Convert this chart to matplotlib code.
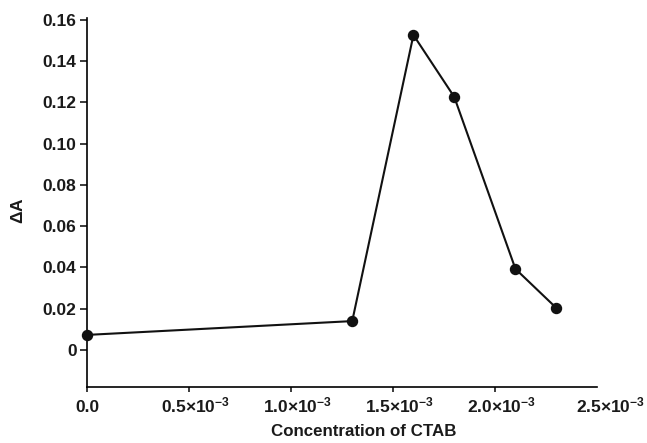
import matplotlib
matplotlib.use("Agg")
import matplotlib.pyplot as plt
import matplotlib.transforms as mtransforms
import numpy as np

#1, data
conc = [0.0, 1.3e-3, 1.6e-3, 1.8e-3, 2.1e-3, 2.3e-3]
dA = [0.0073, 0.0140, 0.1527, 0.1227, 0.0393, 0.0204]

xticks = [0.0, 0.5e-3, 1.0e-3, 1.5e-3, 2.0e-3, 2.5e-3]
xlabels = ['0.0', r'$\mathbf{0.5{\times}10^{-3}}$', r'$\mathbf{1.0{\times}10^{-3}}$',
           r'$\mathbf{1.5{\times}10^{-3}}$', r'$\mathbf{2.0{\times}10^{-3}}$',
           r'$\mathbf{2.5{\times}10^{-3}}$']
yticks = [0, 0.02, 0.04, 0.06, 0.08, 0.10, 0.12, 0.14, 0.16]
ylabels = ['0', '0.02', '0.04', '0.06', '0.08', '0.10', '0.12', '0.14', '0.16']

#2, fonts
plt.rcParams['font.family'] = ['Liberation Sans', 'DejaVu Sans']
plt.rcParams['font.weight'] = 'bold'
plt.rcParams['mathtext.fontset'] = 'custom'
plt.rcParams['mathtext.rm'] = 'Liberation Sans:bold'
plt.rcParams['mathtext.bf'] = 'Liberation Sans:bold'

#3, plot
fig = plt.figure(figsize=(6.47, 4.43), dpi=100)
ax = fig.add_axes([0.1345, 0.1262, 0.7883, 0.8334])

ax.plot(conc, dA, '-o', color='#111111', lw=1.5, ms=7.2, clip_on=False, zorder=3)

ax.set_xlim(0, 2.5e-3)
ax.set_ylim(-0.018, 0.161)

ax.spines['top'].set_visible(False)
ax.spines['right'].set_visible(False)
ax.spines['left'].set_linewidth(1.2)
ax.spines['bottom'].set_linewidth(1.2)

ax.set_xticks(xticks)
ax.set_xticklabels(xlabels)
ax.set_yticks(yticks)
ax.set_yticklabels(ylabels)
ax.tick_params(axis='both', direction='out', width=1.2, labelsize=12.5, colors='#1a1a1a')
ax.tick_params(axis='y', length=5, pad=2.5)
ax.tick_params(axis='x', length=3.6, pad=14.6)

# x labels sit on a common baseline; last tick has no mark, labels a bit right
xt = ax.xaxis.get_major_ticks()
xt[-1].tick1line.set_visible(False)
for i, lab in enumerate(ax.get_xticklabels()):
    lab.set_verticalalignment('baseline')
    if i == 0:
        continue
    dx = 14 if i == len(xticks) - 1 else 7
    lab.set_transform(lab.get_transform() + mtransforms.ScaledTranslation(dx / 100, 0, fig.dpi_scale_trans))

ax.set_xlabel('Concentration of CTAB', fontsize=12.2, fontweight='bold', color='#1a1a1a')
ax.xaxis.set_label_coords(0.543, -0.1)
ax.set_ylabel(r'$\mathbf{\Delta A}$', fontsize=12.5, color='#1a1a1a')
ax.yaxis.set_label_coords(-0.12, 0.477)

plt.savefig('out.png', dpi=100)
